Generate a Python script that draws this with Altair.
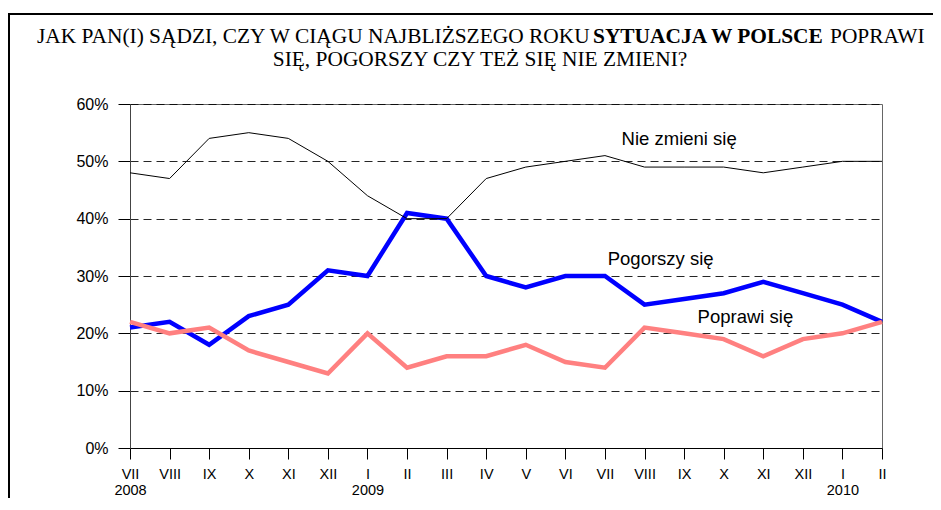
import altair as alt
import pandas as pd

months = ["VII", "VIII", "IX", "X", "XI", "XII", "I", "II", "III", "IV", "V", "VI",
          "VII", "VIII", "IX", "X", "XI", "XII", "I", "II"]
years = ["2008", "", "", "", "", "", "2009", "", "", "", "", "",
         "", "", "", "", "", "", "2010", ""]
nie_zmieni = [48, 47, 54, 55, 54, 50, 44, 40, 40, 47, 49, 50, 51, 49, 49, 49, 48, 49, 50, 50]
pogorszy = [21, 22, 18, 23, 25, 31, 30, 41, 40, 30, 28, 30, 30, 25, 26, 27, 29, 27, 25, 22]
poprawi = [22, 20, 21, 17, 15, 13, 20, 14, 16, 16, 18, 15, 14, 21, 20, 19, 16, 19, 20, 22]

series_names = ["Nie zmieni się", "Pogorszy się", "Poprawi się"]
label_x = [12.42, 12.07, 14.34]
label_y = [52.9, 31.85, 21.8]

title_prefix = "JAK PAN(I) SĄDZI, CZY W CIĄGU NAJBLIŻSZEGO ROKU"
title_bold = "SYTUACJA W POLSCE"
title_suffix = "POPRAWI"
title_line2 = "SIĘ, POGORSZY CZY TEŻ SIĘ NIE ZMIENI?"

idx = list(range(len(months)))
df_nie = pd.DataFrame({"i": idx, "v": nie_zmieni})
df_pog = pd.DataFrame({"i": idx, "v": pogorszy})
df_pop = pd.DataFrame({"i": idx, "v": poprawi})
df_lab = pd.DataFrame({"i": label_x, "v": label_y, "t": series_names})

parts = []
for m, y in zip(months, years):
    parts.append(f"['{m}','{y}']" if y else f"'{m}'")
label_expr = "[" + ",".join(parts) + "][datum.value]"

SANS = "Liberation Sans, Arimo, Arial, Helvetica, sans-serif"
SERIF = "Liberation Serif"

x_enc = alt.X("i:Q", scale=alt.Scale(domain=[0, len(months) - 1], nice=False, zero=False),
              axis=alt.Axis(values=idx, tickCount=len(idx), labelExpr=label_expr, title=None,
                            grid=False, tickSize=11, tickColor="black", domainColor="black",
                            labelAngle=0, labelBaseline="top", labelPadding=8,
                            labelLineHeight=16, labelFont=SANS, labelFontSize=14.5,
                            labelColor="black", labelOverlap=False, labelFlush=False))
y_enc = alt.Y("v:Q", scale=alt.Scale(domain=[0, 60], nice=False),
              axis=alt.Axis(values=[0, 10, 20, 30, 40, 50, 60], labelExpr="datum.value + '%'",
                            title=None, grid=True, gridDash=[8, 5], gridColor="black",
                            gridOpacity=0.85, tickSize=12, tickColor="black",
                            domainColor="#444", labelPadding=10, labelFont=SANS,
                            labelFontSize=16, labelColor="black"))

l_pog = alt.Chart(df_pog).mark_line(color="#0000FF", strokeWidth=4.5).encode(x=x_enc, y=y_enc)
l_pop = alt.Chart(df_pop).mark_line(color="#FF8080", strokeWidth=4.5).encode(x=x_enc, y=y_enc)
l_nie = alt.Chart(df_nie).mark_line(color="black", strokeWidth=1).encode(x=x_enc, y=y_enc)

labels = alt.Chart(df_lab).mark_text(align="left", baseline="alphabetic", font=SANS,
                                     fontSize=18.5, color="black").encode(
    x=x_enc, y=y_enc, text="t:N")

one = alt.Data(values=[{}])
TS = 21.4
t1 = alt.Chart(one).mark_text(align="left", baseline="alphabetic", font=SERIF, fontSize=TS,
                              color="black").encode(
    x=alt.value(-93), y=alt.value(-61), text=alt.value(title_prefix))
t2 = alt.Chart(one).mark_text(align="left", baseline="alphabetic", font=SERIF, fontSize=TS,
                              fontWeight="bold", color="black").encode(
    x=alt.value(463), y=alt.value(-61), text=alt.value(title_bold))
t3 = alt.Chart(one).mark_text(align="left", baseline="alphabetic", font=SERIF, fontSize=TS,
                              color="black").encode(
    x=alt.value(700), y=alt.value(-61), text=alt.value(title_suffix))
t4 = alt.Chart(one).mark_text(align="center", baseline="alphabetic", font=SERIF, fontSize=TS,
                              color="black").encode(
    x=alt.value(350), y=alt.value(-38), text=alt.value(title_line2))

frame = alt.Chart(one).mark_rect(fillOpacity=0, stroke="black", strokeWidth=2).encode(
    x=alt.value(-121), x2=alt.value(830), y=alt.value(-90), y2=alt.value(430))

chart = alt.layer(frame, l_pog, l_pop, l_nie, labels, t1, t2, t3, t4).properties(
    width=752, height=344,
    padding={"left": 122, "top": 96, "right": 51, "bottom": 50},
    autosize=alt.AutoSizeParams(type="none"),
    background="white",
).configure_view(stroke="#666", strokeWidth=1)

chart.save("out.html", embed_options={"renderer": "svg", "actions": False})
